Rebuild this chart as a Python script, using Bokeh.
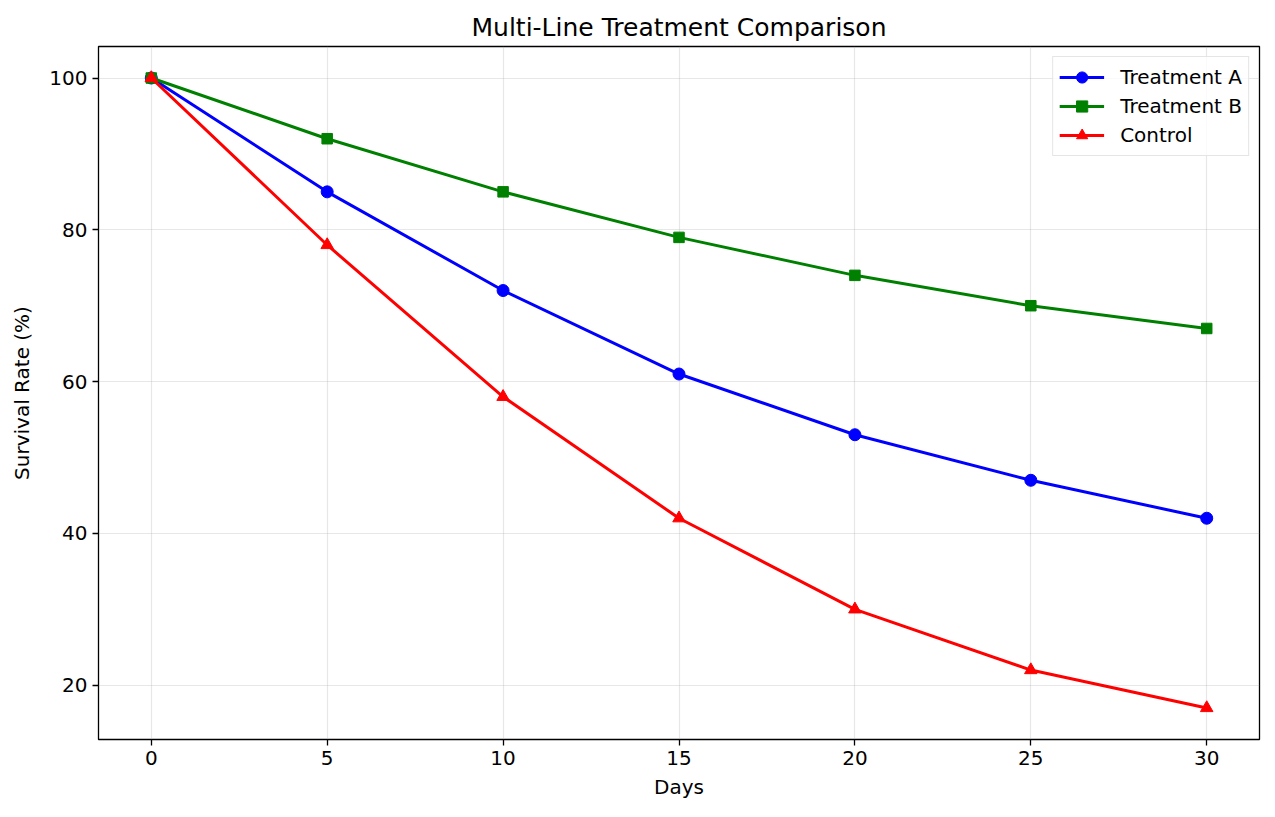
from bokeh.plotting import figure
from bokeh.models import FixedTicker, Legend, LegendItem, Range1d
from bokeh.embed import file_html
from bokeh.resources import INLINE

days = [0, 5, 10, 15, 20, 25, 30]
treatment_a = [100, 85, 72, 61, 53, 47, 42]
treatment_b = [100, 92, 85, 79, 74, 70, 67]
control = [100, 78, 58, 42, 30, 22, 17]
x_ticks = [0, 5, 10, 15, 20, 25, 30]
y_ticks = [20, 40, 60, 80, 100]

FONT = "DejaVu Sans"

p = figure(width=1275, height=817, output_backend="svg", toolbar_location=None,
           min_border_left=98, min_border_right=16, min_border_top=46, min_border_bottom=78,
           x_range=Range1d(-1.5, 31.5), y_range=Range1d(12.85, 104.15),
           title="Multi-Line Treatment Comparison")

p.title.text_font = FONT
p.title.text_font_size = "25px"
p.title.text_font_style = "normal"
p.title.align = "center"
p.title.text_color = "black"
p.title.offset = 0
p.title.standoff = 9

p.outline_line_color = "black"
p.outline_line_width = 1.3
p.outline_line_alpha = 1
p.background_fill_color = "white"
p.border_fill_color = "white"

for ax in (p.xaxis[0], p.yaxis[0]):
    ax.axis_line_color = None
    ax.major_tick_line_color = "black"
    ax.major_tick_line_width = 1.3
    ax.major_tick_out = 6
    ax.major_tick_in = 0
    ax.minor_tick_line_color = None
    ax.major_label_text_font = FONT
    ax.major_label_text_font_size = "20px"
    ax.major_label_text_color = "black"
    ax.axis_label_text_font = FONT
    ax.axis_label_text_font_size = "20px"
    ax.axis_label_text_font_style = "normal"
    ax.axis_label_text_color = "black"
    ax.major_label_standoff = 5

p.xaxis.ticker = FixedTicker(ticks=x_ticks)
p.yaxis.ticker = FixedTicker(ticks=y_ticks)
p.xaxis.axis_label = "Days"
p.yaxis.axis_label = "Survival Rate (%)"
p.yaxis.axis_label_standoff = 12
p.xaxis.axis_label_standoff = 7

p.grid.grid_line_color = "#b0b0b0"
p.grid.grid_line_alpha = 0.3
p.grid.grid_line_width = 1.2

items = []
series = [
    ("Treatment A", treatment_a, "blue", "circle", 12),
    ("Treatment B", treatment_b, "green", "square", 10.5),
    ("Control", control, "red", "triangle", 12.5),
]
for name, ys, col, marker, sz in series:
    l = p.line(days, ys, line_color=col, line_width=3)
    s = p.scatter(days, ys, marker=marker, size=sz, fill_color=col, line_color=col)
    items.append(LegendItem(label=name, renderers=[l, s]))

legend = Legend(items=items, location="top_right")
legend.label_text_font = FONT
legend.label_text_font_size = "20px"
legend.label_text_color = "black"
legend.border_line_color = "#cccccc"
legend.border_line_width = 1.5
legend.background_fill_alpha = 0.8
legend.margin = 10
legend.padding = 6
legend.spacing = 1
legend.glyph_width = 45
legend.glyph_height = 28
legend.label_standoff = 16
p.add_layout(legend)

open("out.html", "w").write(file_html(p, INLINE))
